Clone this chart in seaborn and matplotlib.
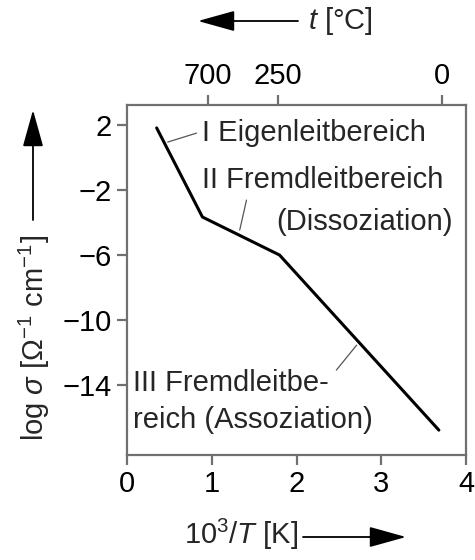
import numpy as np
import pandas as pd
import seaborn as sns
import matplotlib.pyplot as plt

# curve: log conductivity vs. reciprocal temperature
inv_T = [0.35, 0.89, 1.80, 3.68]
log_sigma = [1.82, -3.66, -6.0, -16.77]

x_ticks = [0, 1, 2, 3, 4]
y_ticks = [2, -2, -6, -10, -14]
top_tick_labels = ['700', '250', '0']
top_tick_x = [0.95, 1.78, 3.72]

regions = ['I Eigenleitbereich', 'II Fremdleitbereich', '(Dissoziation)',
           'III Fremdleitbe-', 'reich (Assoziation)']

sns.set_theme(style='ticks')
plt.rcParams['font.family'] = ['Liberation Sans', 'DejaVu Sans']
plt.rcParams['mathtext.fontset'] = 'custom'
plt.rcParams['mathtext.rm'] = 'Liberation Sans'
plt.rcParams['mathtext.it'] = 'Liberation Sans:italic'

W, H = 475, 560
fig = plt.figure(figsize=(W / 100, H / 100), dpi=100)
ax = fig.add_axes([127 / W, 1 - 455 / H, (466 - 127) / W, (455 - 105) / H])

df = pd.DataFrame({'x': inv_T, 'y': log_sigma})
sns.lineplot(data=df, x='x', y='y', color='black', lw=2.2, sort=False, ax=ax)

ax.set_xlim(0, 4)
ax.set_ylim(-18.3, 3.23)
ax.set_xticks(x_ticks)
ax.set_yticks(y_ticks)
ax.set_yticklabels([str(v).replace('-', '\u2212') for v in y_ticks])
ax.set_xlabel('')
ax.set_ylabel('')

fs = 21
spine_col = '#707070'
for s in ax.spines.values():
    s.set_color(spine_col)
    s.set_linewidth(1.6)
    s.set_visible(True)
ax.tick_params(direction='out', length=7, width=1.6, color=spine_col,
               labelsize=fs, pad=4, labelcolor='black')

ax2 = ax.twiny()
ax2.set_xlim(ax.get_xlim())
ax2.set_xticks(top_tick_x)
ax2.set_xticklabels(top_tick_labels)
ax2.tick_params(direction='out', length=7, width=1.6, color=spine_col,
                labelsize=fs, pad=4, labelcolor='black')
for s in ax2.spines.values():
    s.set_visible(False)

ax.text(0.89, 1.5, regions[0], fontsize=fs, va='center', ha='left')
ax.text(0.89, -1.38, regions[1], fontsize=fs, va='center', ha='left')
ax.text(3.84, -3.97, regions[2], fontsize=fs, va='center', ha='right')
ax.text(0.07, -13.9, regions[3], fontsize=fs, va='center', ha='left')
ax.text(0.07, -16.15, regions[4], fontsize=fs, va='center', ha='left')

# leader lines
lead = dict(color='#555555', lw=0.9)
ax.plot([0.48, 0.82], [0.95, 1.5], **lead)
ax.plot([1.33, 1.41], [-4.46, -2.62], **lead)
ax.plot([2.71, 2.47], [-11.54, -13.08], **lead)

# axis titles with arrows
arrow = dict(arrowstyle='-|>,head_length=1.15,head_width=0.32', color='black',
             lw=1.3, mutation_scale=20, shrinkA=0, shrinkB=0)
ax.annotate('', xy=(198, H - 21), xytext=(298, H - 21),
            xycoords='figure pixels', textcoords='figure pixels', arrowprops=arrow)
fig.text(308 / W, 1 - 21 / H, r'$t$ [°C]', fontsize=fs, va='center', ha='left')

fig.text(298 / W, 1 - 534 / H, r'10$^3$/$T$ [K]', fontsize=fs, va='center', ha='right')
ax.annotate('', xy=(406, H - 537), xytext=(303, H - 537),
            xycoords='figure pixels', textcoords='figure pixels', arrowprops=arrow)

fig.text(34 / W, 1 - 338 / H, r'log $\sigma$ [$\Omega^{-1}$ cm$^{-1}$]', fontsize=fs,
         rotation=90, va='center', ha='center')
ax.annotate('', xy=(33, H - 110), xytext=(33, H - 220),
            xycoords='figure pixels', textcoords='figure pixels', arrowprops=arrow)

fig.savefig('out.png', dpi=100)
